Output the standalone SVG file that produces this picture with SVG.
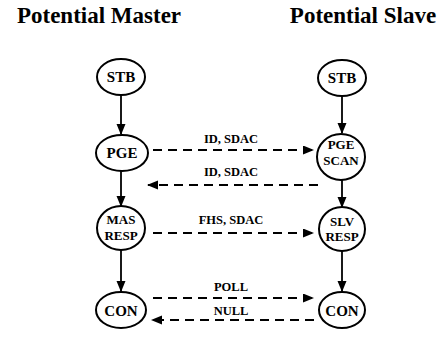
<svg xmlns="http://www.w3.org/2000/svg" width="441" height="337" viewBox="0 0 441 337">
<style>
text{font-weight:bold;fill:#000;text-anchor:middle}
.title{font-size:23px}
.n{font-size:15px}
.s{font-size:13px}
.e{font-size:12.5px}
ellipse{fill:#fff;stroke:#000;stroke-width:2}
.c line{stroke:#000;stroke-width:1.8}
.c .d{stroke-dasharray:9 6;stroke-width:2}
</style>
<defs>
<marker id="ah" markerUnits="userSpaceOnUse" markerWidth="11" markerHeight="10" refX="10" refY="4.5" orient="auto">
<path d="M0,0 L11,4.5 L0,9 z" fill="#000"/>
</marker>
</defs>
<rect width="441" height="337" fill="#fff"/>
<g font-family="Liberation Serif, Times New Roman, serif">
<text class="title" x="99" y="23">Potential Master</text>
<text class="title" x="363" y="23">Potential Slave</text>
<g class="c" id="connectors">
<line x1="121" y1="95" x2="121" y2="134" marker-end="url(#ah)"/>
<line x1="121" y1="171" x2="121" y2="206" marker-end="url(#ah)"/>
<line x1="121" y1="250" x2="121" y2="291" marker-end="url(#ah)"/>
<line x1="342" y1="96" x2="342" y2="133" marker-end="url(#ah)"/>
<line x1="342" y1="179" x2="342" y2="207" marker-end="url(#ah)"/>
<line x1="342" y1="251" x2="342" y2="291" marker-end="url(#ah)"/>
<line class="d" x1="153" y1="150" x2="313" y2="150" marker-end="url(#ah)"/>
<line class="d" x1="318" y1="185" x2="148" y2="185" marker-end="url(#ah)"/>
<line class="d" x1="153" y1="233" x2="313" y2="233" marker-end="url(#ah)"/>
<line class="d" x1="153" y1="298" x2="313" y2="298" marker-end="url(#ah)"/>
<line class="d" x1="314" y1="320" x2="152" y2="320" marker-end="url(#ah)"/>
<text class="e" x="231" y="143">ID, SDAC</text>
<text class="e" x="231" y="176">ID, SDAC</text>
<text class="e" x="231" y="224">FHS, SDAC</text>
<text class="e" x="231" y="291">POLL</text>
<text class="e" x="231" y="315">NULL</text>
</g>
<g id="m-stb"><ellipse cx="121" cy="77" rx="24" ry="18"/><text class="n" x="121" y="82">STB</text></g>
<g id="s-stb"><ellipse cx="342" cy="78" rx="24" ry="18"/><text class="n" x="342" y="83">STB</text></g>
<g id="m-pge"><ellipse cx="122" cy="153" rx="26" ry="18"/><text class="n" x="122" y="158">PGE</text></g>
<g id="s-pgescan"><ellipse cx="341" cy="157" rx="24" ry="23"/><text class="s" x="341" y="149">PGE</text><text class="s" x="341" y="165">SCAN</text></g>
<g id="m-masresp"><ellipse cx="121" cy="228" rx="24" ry="22"/><text class="s" x="121" y="224">MAS</text><text class="s" x="121" y="240">RESP</text></g>
<g id="s-slvresp"><ellipse cx="342" cy="229" rx="23" ry="22"/><text class="s" x="342" y="226">SLV</text><text class="s" x="342" y="241">RESP</text></g>
<g id="m-con"><ellipse cx="121" cy="310" rx="25" ry="18"/><text class="n" x="121" y="316">CON</text></g>
<g id="s-con"><ellipse cx="342" cy="310" rx="23" ry="18"/><text class="n" x="342" y="316">CON</text></g>
</g>
</svg>
